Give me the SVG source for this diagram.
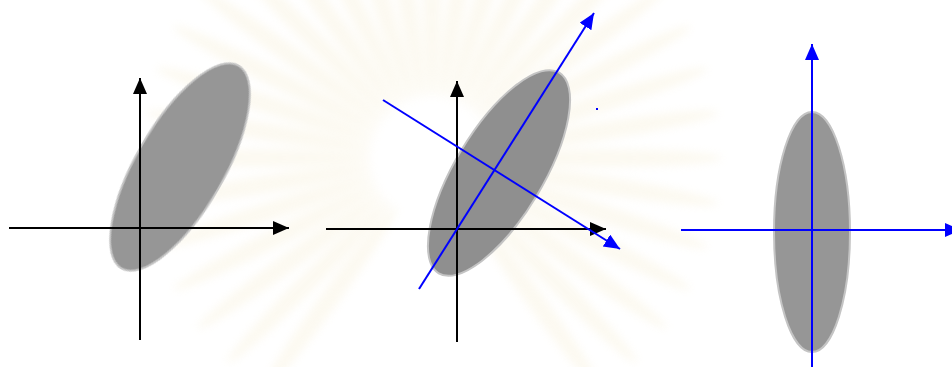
<svg xmlns="http://www.w3.org/2000/svg" xmlns:xlink="http://www.w3.org/1999/xlink" width="952" height="367" viewBox="0 0 952 367">
<style>
.blob{fill:#969696;stroke:#c4c4c4;stroke-width:2}
.ax{stroke:#000;stroke-width:2;fill:none}
.bl{stroke:#0000ff;stroke-width:2;fill:none}
.ray{fill:#f6edd0;opacity:0.3}
</style>
<defs>
<marker id="ak" markerUnits="userSpaceOnUse" markerWidth="18" markerHeight="16" refX="16" refY="7" orient="auto" viewBox="0 0 18 16">
<path d="M0,0 L16,7 L0,14 Z" fill="#000"/>
</marker>
<marker id="ab" markerUnits="userSpaceOnUse" markerWidth="18" markerHeight="16" refX="16" refY="7" orient="auto" viewBox="0 0 18 16">
<path d="M0,0 L16,7 L0,14 Z" fill="#0000ff"/>
</marker>
<filter id="soft" x="-20%" y="-20%" width="140%" height="140%"><feGaussianBlur stdDeviation="4"/></filter>
<ellipse id="ray" cx="0" cy="-175" rx="9" ry="115"/>
</defs>
<rect width="952" height="367" fill="#fff"/>
<g id="watermark" transform="translate(432,158)" class="ray" filter="url(#soft)">
<use xlink:href="#ray" transform="rotate(0)"/><use xlink:href="#ray" transform="rotate(9)"/><use xlink:href="#ray" transform="rotate(18)"/><use xlink:href="#ray" transform="rotate(27)"/><use xlink:href="#ray" transform="rotate(36)"/><use xlink:href="#ray" transform="rotate(45)"/><use xlink:href="#ray" transform="rotate(54)"/><use xlink:href="#ray" transform="rotate(63)"/><use xlink:href="#ray" transform="rotate(72)"/><use xlink:href="#ray" transform="rotate(81)"/><use xlink:href="#ray" transform="rotate(90)"/><use xlink:href="#ray" transform="rotate(99)"/><use xlink:href="#ray" transform="rotate(108)"/><use xlink:href="#ray" transform="rotate(117)"/><use xlink:href="#ray" transform="rotate(126)"/><use xlink:href="#ray" transform="rotate(135)"/><use xlink:href="#ray" transform="rotate(144)"/><use xlink:href="#ray" transform="rotate(216)"/><use xlink:href="#ray" transform="rotate(225)"/><use xlink:href="#ray" transform="rotate(234)"/><use xlink:href="#ray" transform="rotate(243)"/><use xlink:href="#ray" transform="rotate(252)"/><use xlink:href="#ray" transform="rotate(261)"/><use xlink:href="#ray" transform="rotate(270)"/><use xlink:href="#ray" transform="rotate(279)"/><use xlink:href="#ray" transform="rotate(288)"/><use xlink:href="#ray" transform="rotate(297)"/><use xlink:href="#ray" transform="rotate(306)"/><use xlink:href="#ray" transform="rotate(315)"/><use xlink:href="#ray" transform="rotate(324)"/><use xlink:href="#ray" transform="rotate(333)"/><use xlink:href="#ray" transform="rotate(342)"/><use xlink:href="#ray" transform="rotate(351)"/>
</g>
<g id="panel1">
<ellipse class="blob" cx="180" cy="167" rx="117" ry="44" transform="rotate(-60 180 167)"/>
</g>
<g id="panel2">
<ellipse class="blob" cx="499" cy="173" rx="117" ry="44" transform="rotate(-59 499 173)" style="fill:#8f8f8f"/>
<rect x="596" y="108" width="2" height="2" fill="#0000ff"/>
</g>
<g id="panel3">
<ellipse class="blob" cx="812" cy="232" rx="38" ry="120"/>
</g>
<g id="connectors">
<line class="ax" x1="9" y1="228" x2="289" y2="228" marker-end="url(#ak)"/>
<line class="ax" x1="140" y1="340" x2="140" y2="78" marker-end="url(#ak)"/>
<line class="ax" x1="326" y1="229" x2="606" y2="229" marker-end="url(#ak)"/>
<line class="ax" x1="457" y1="342" x2="457" y2="81" marker-end="url(#ak)"/>
<line class="bl" x1="419" y1="289" x2="594" y2="13" marker-end="url(#ab)"/>
<line class="bl" x1="383" y1="100" x2="620" y2="249" marker-end="url(#ab)"/>
<line class="bl" x1="812" y1="367" x2="812" y2="44" marker-end="url(#ab)"/>
<line class="bl" x1="681" y1="230" x2="961" y2="230" marker-end="url(#ab)"/>
</g>
</svg>
